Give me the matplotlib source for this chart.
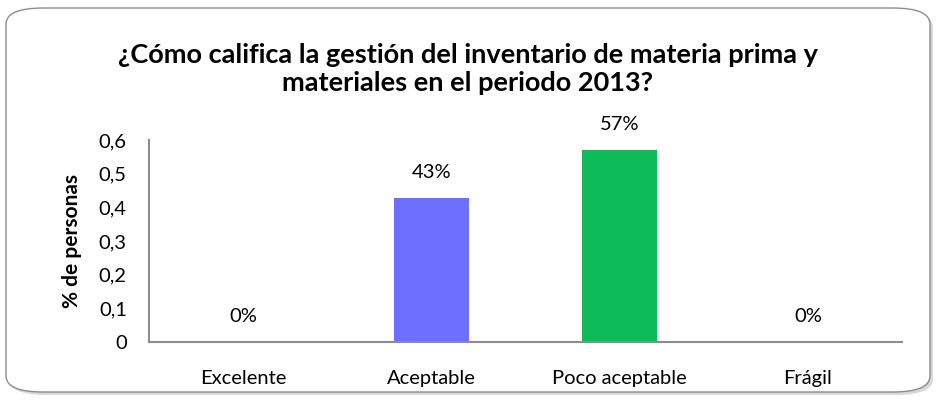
import matplotlib.pyplot as plt
from matplotlib.patches import FancyBboxPatch
from matplotlib.ticker import FuncFormatter

categorias = ['Excelente', 'Aceptable', 'Poco aceptable', 'Frágil']
valores = [0.0, 0.4286, 0.5714, 0.0]
etiquetas = ['0%', '43%', '57%', '0%']
colores = ['#6F6FFF', '#6F6FFF', '#0DBB5A', '#0DBB5A']

plt.rcParams['font.family'] = ['Lato', 'DejaVu Sans']

fig = plt.figure(figsize=(9.36, 4.0), dpi=100)
ax = fig.add_axes([149 / 936, 1 - 342 / 400, (902 - 149) / 936, (342 - 140) / 400])

# marco redondeado con sombra
sombra = FancyBboxPatch((9 / 936, 5 / 400), 924 / 936, 384 / 400,
                        boxstyle='round,pad=0,rounding_size=0.04',
                        transform=fig.transFigure, facecolor='#D8D8D8',
                        edgecolor='none', zorder=-3)
marco = FancyBboxPatch((6 / 936, 8 / 400), 924 / 936, 384 / 400,
                       boxstyle='round,pad=0,rounding_size=0.04',
                       transform=fig.transFigure, facecolor='white',
                       edgecolor='#8C8C8C', linewidth=1.0, zorder=-2)
fig.patches.extend([sombra, marco])

x = range(len(categorias))
ax.bar(x, valores, width=0.4, color=colores)
for xi, v, t in zip(x, valores, etiquetas):
    ax.text(xi, v + 0.075, t, ha='center', va='center', fontsize=14.5)

ax.set_xlim(-0.5, 3.5)
ax.set_ylim(0, 0.6)
ax.set_yticks([0, 0.1, 0.2, 0.3, 0.4, 0.5, 0.6])
ax.yaxis.set_major_formatter(FuncFormatter(
    lambda v, p: '0' if v == 0 else f'{v:.1f}'.replace('.', ',')))
ax.set_xticks(list(x))
ax.set_xticklabels(categorias)
ax.tick_params(axis='both', length=0, labelsize=14.5)
ax.tick_params(axis='x', pad=20)
ax.tick_params(axis='y', pad=16)
for s in ['top', 'right']:
    ax.spines[s].set_visible(False)
for s in ['left', 'bottom']:
    ax.spines[s].set_color('#8C8C8C')
    ax.spines[s].set_linewidth(1.5)
ax.patch.set_alpha(0)
ax.set_ylabel('% de personas', fontsize=15, fontweight='bold', labelpad=12)

fig.text(0.5, 0.828, '¿Cómo califica la gestión del inventario de materia prima y\nmateriales en el periodo 2013?',
         ha='center', va='center', fontsize=19.5, fontweight='bold', linespacing=1.2)

fig.savefig('out.png', dpi=100)
